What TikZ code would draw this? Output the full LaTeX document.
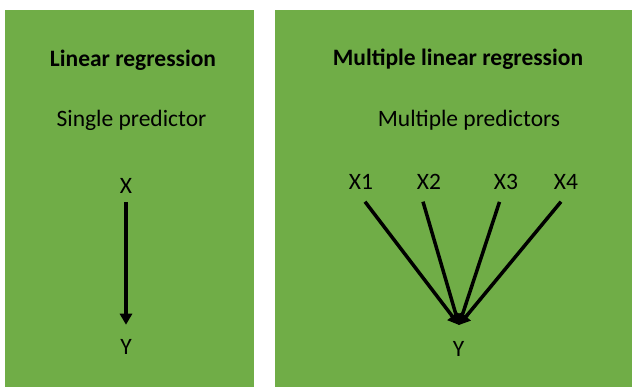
\documentclass[tikz,border=0pt]{standalone}
\usepackage{fontspec}
\setmainfont{Carlito}
\usetikzlibrary{arrows.meta}
\definecolor{panelgreen}{HTML}{70AD47}
\begin{document}
\begin{tikzpicture}[x=1pt,y=-1pt,
  panel/.style={fill=panelgreen,draw=none},
  lbl/.style={inner sep=0pt,anchor=base,font=\fontsize{23.5}{27}\selectfont},
  ttl/.style={lbl,font=\fontsize{23.5}{27}\selectfont\bfseries},
  arr/.style={line width=3.5pt,-{Triangle[width=12pt,length=11pt]}}]
\useasboundingbox (0,0) rectangle (632,387);
\fill[white] (0,0) rectangle (632,387);
\path[panel] (5,10) rectangle (254,387);
\path[panel] (275,10) rectangle (632,387);
% left panel
\node[ttl] (t1) at (133,66.5) {Linear regression};
\node[lbl] (s1) at (131.5,127) {Single predictor};
\node[lbl] (x) at (126,194) {X};
\node[lbl] (y) at (126,355) {Y};
\draw[arr] ([yshift=-8pt]x.south) -- ([yshift=15pt]y.north);
% right panel
\node[ttl] (t2) at (458,66) {Multiple linear regression};
\node[lbl] (s2) at (469,127) {Multiple predictors};
\node[lbl] (x1) at (361,189.5) {X1};
\node[lbl] (x2) at (429,189.5) {X2};
\node[lbl] (x3) at (506,189.5) {X3};
\node[lbl] (x4) at (566,189.5) {X4};
\node[lbl] (y2) at (458.5,356.5) {Y};
\coordinate (tip) at (459,325);
\draw[arr] ([xshift=4pt,yshift=-12pt]x1.south) -- (tip);
\draw[arr] ([xshift=-6pt,yshift=-12pt]x2.south) -- (tip);
\draw[arr] ([xshift=-6.5pt,yshift=-12pt]x3.south) -- (tip);
\draw[arr] ([xshift=-5pt,yshift=-12pt]x4.south) -- (tip);
\end{tikzpicture}
\end{document}
